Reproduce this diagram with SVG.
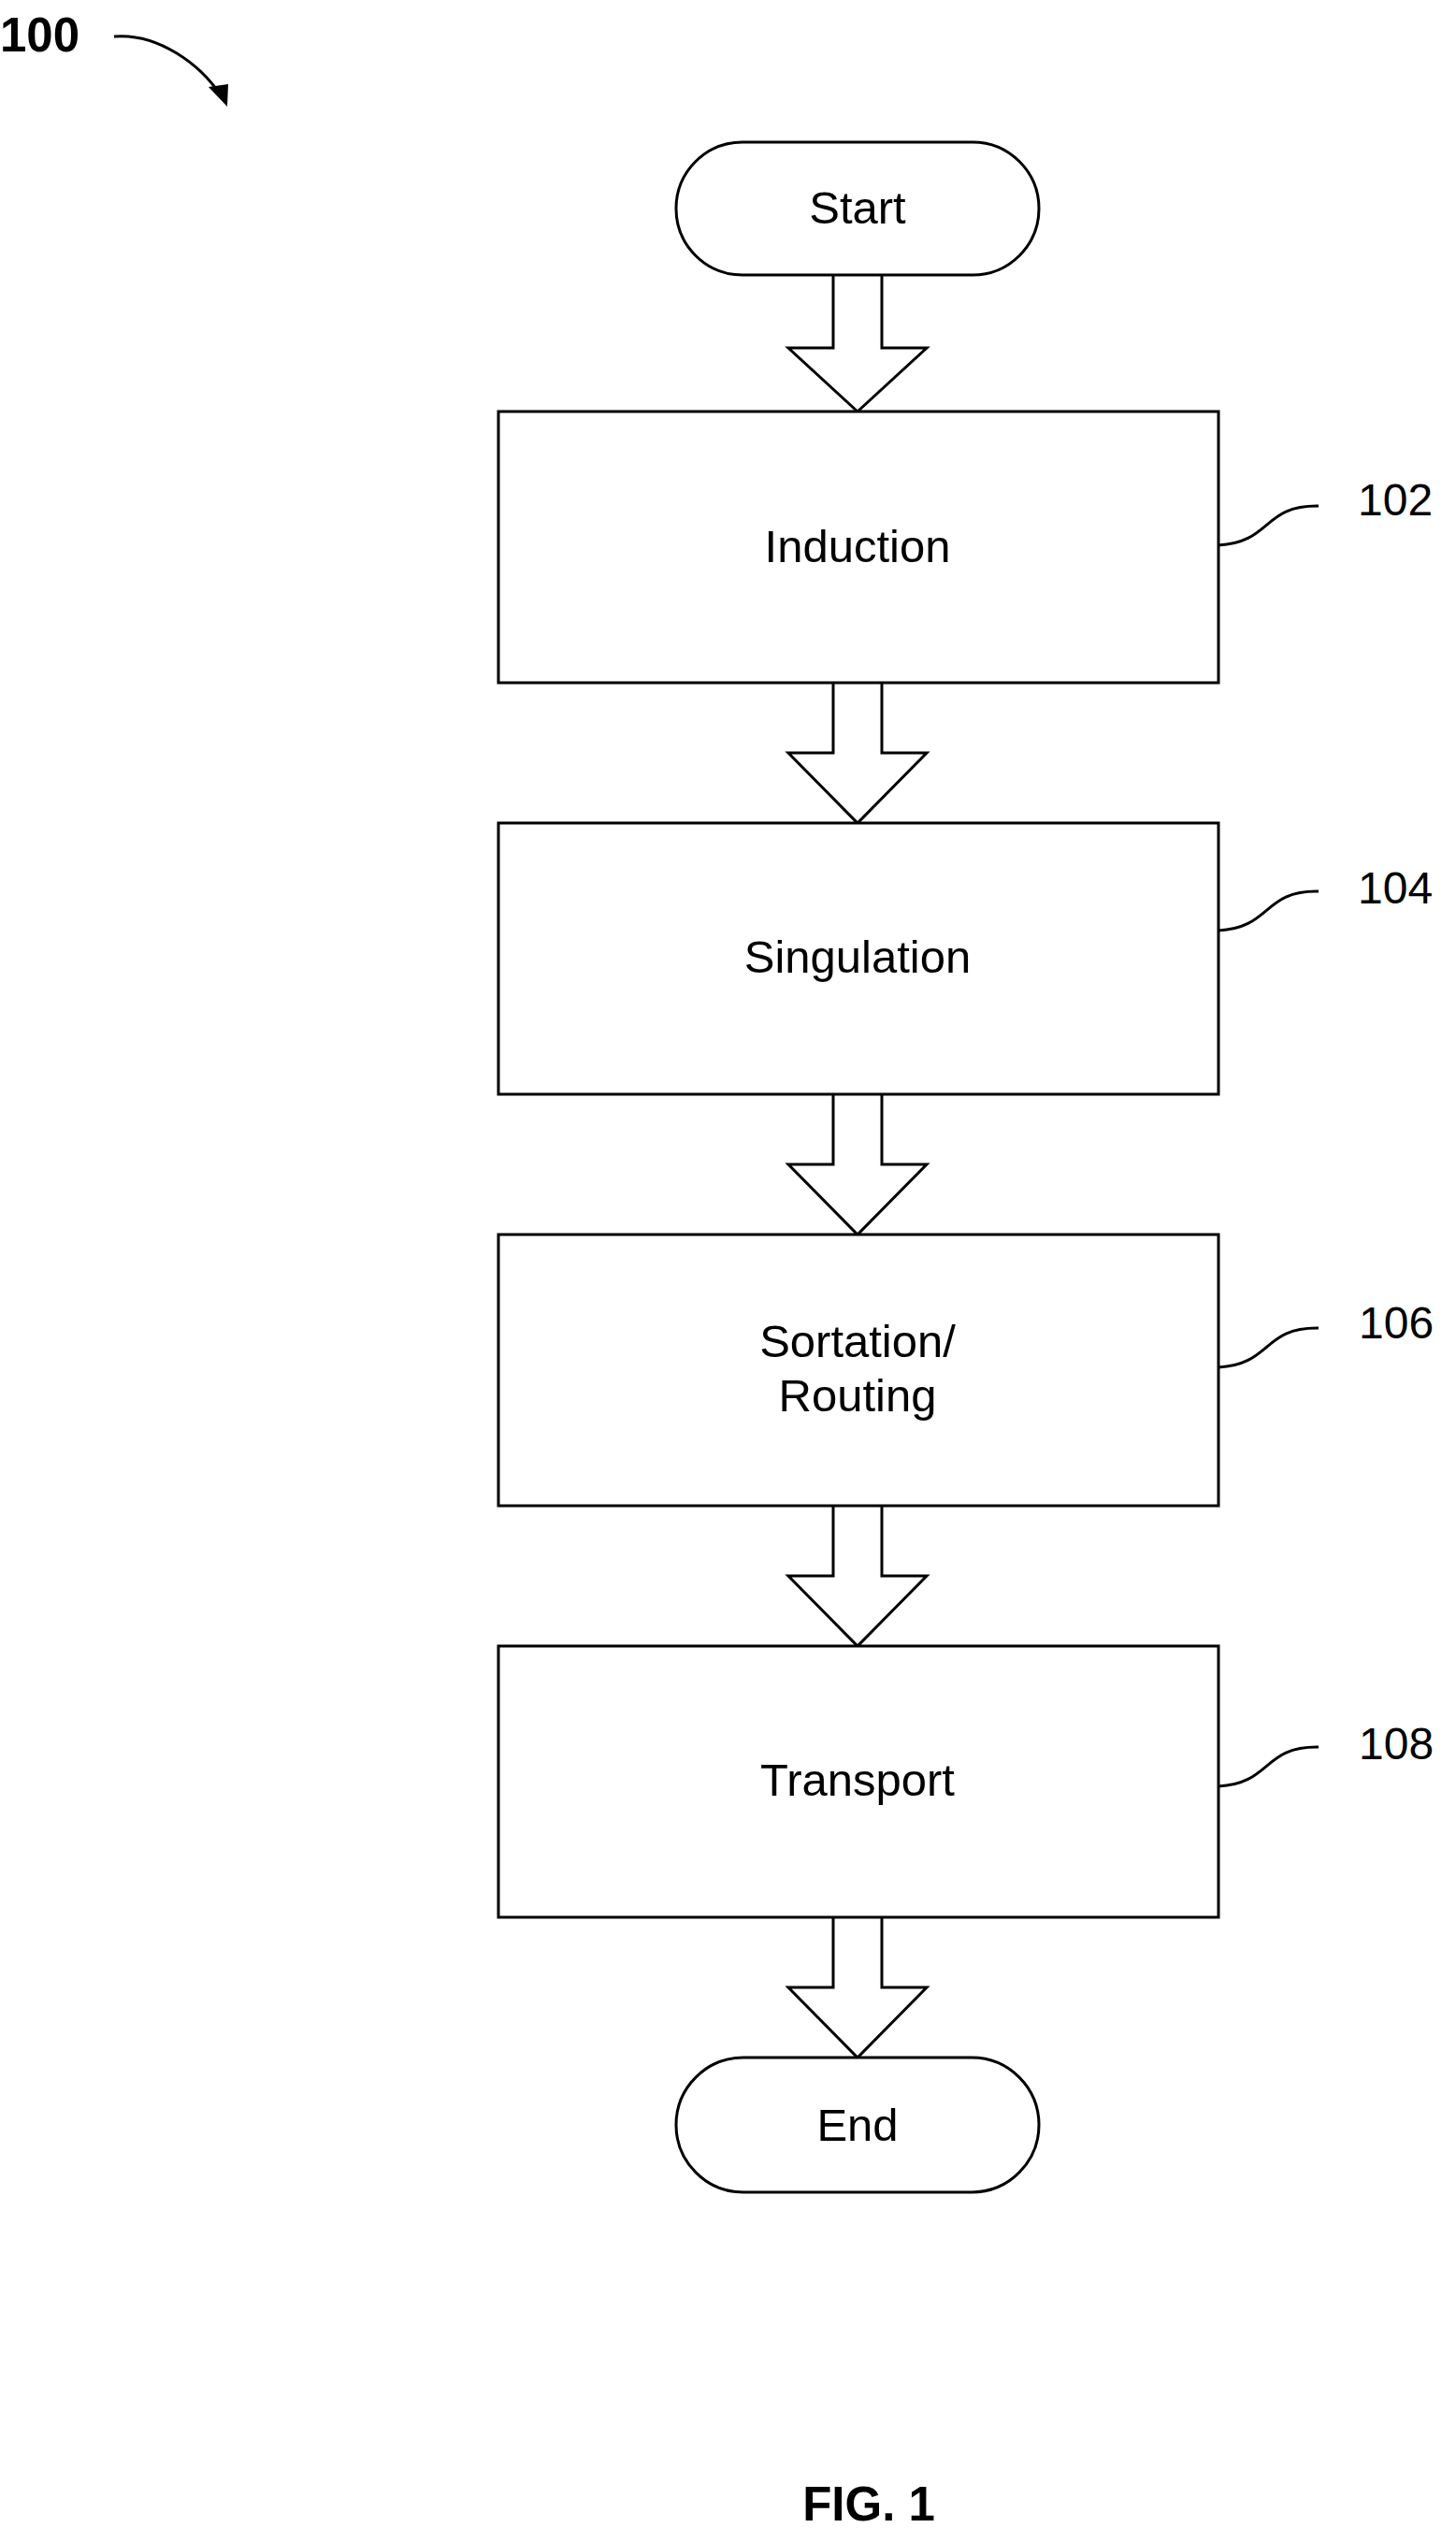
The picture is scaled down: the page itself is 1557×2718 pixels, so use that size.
<svg xmlns="http://www.w3.org/2000/svg" width="1557" height="2718" viewBox="0 0 1557 2718">
<style>
.s{fill:#fff;stroke:#000;stroke-width:3}
.l{fill:none;stroke:#000;stroke-width:3}
.t{font-family:"Liberation Sans",Arial,sans-serif;font-size:49px;text-anchor:middle;fill:#000}
.n{font-family:"Liberation Sans",Arial,sans-serif;font-size:48px;fill:#000}
.b{font-family:"Liberation Sans",Arial,sans-serif;font-size:51px;font-weight:bold;fill:#000}
</style>
<rect width="1557" height="2718" fill="#fff"/>
<g id="connectors">
<path class="s" d="M891,294 V372 H843 L917,440 L991,372 H943 V294"/>
<path class="s" d="M891,730 V805 H843 L917,880 L991,805 H943 V730"/>
<path class="s" d="M891,1170 V1245 H843 L917,1320 L991,1245 H943 V1170"/>
<path class="s" d="M891,1610 V1685 H843 L917,1760 L991,1685 H943 V1610"/>
<path class="s" d="M891,2050 V2125 H843 L917,2200 L991,2125 H943 V2050"/>
<path class="l" d="M1303,583 C1360,580 1350,540 1410,541"/>
<path class="l" d="M1303,995 C1360,992 1350,952 1410,953"/>
<path class="l" d="M1303,1462 C1360,1459 1350,1419 1410,1420"/>
<path class="l" d="M1303,1910 C1360,1907 1350,1867 1410,1868"/>
<path class="l" d="M122,39 C170,35 215,70 236,102"/>
<path d="M243,114 L223,93 L244,90 Z" fill="#000"/>
</g>
<text class="b" x="0" y="55">100</text>
<g id="start"><rect class="s" x="723" y="152" width="388" height="142" rx="71"/><text class="t" x="917" y="239">Start</text></g>
<g id="n102"><rect class="s" x="533" y="440" width="770" height="290"/><text class="t" x="917" y="601">Induction</text><text class="n" x="1452" y="551">102</text></g>
<g id="n104"><rect class="s" x="533" y="880" width="770" height="290"/><text class="t" x="917" y="1040">Singulation</text><text class="n" x="1452" y="966">104</text></g>
<g id="n106"><rect class="s" x="533" y="1320" width="770" height="290"/><text class="t" x="917" y="1451">Sortation/</text><text class="t" x="917" y="1509">Routing</text><text class="n" x="1453" y="1431">106</text></g>
<g id="n108"><rect class="s" x="533" y="1760" width="770" height="290"/><text class="t" x="917" y="1920">Transport</text><text class="n" x="1453" y="1881">108</text></g>
<g id="end"><rect class="s" x="723" y="2200" width="388" height="144" rx="72"/><text class="t" x="917" y="2289">End</text></g>
<text class="b" x="929" y="2695" text-anchor="middle">FIG. 1</text>
</svg>
